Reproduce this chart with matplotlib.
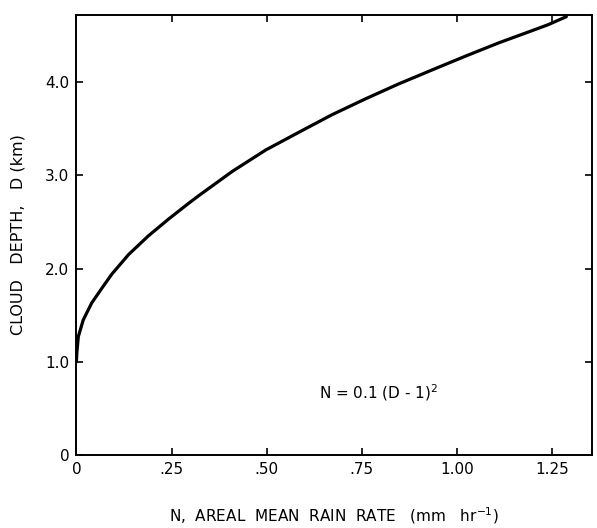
import matplotlib
matplotlib.use('Agg')
import matplotlib.pyplot as plt

# points: rain rate N (mm/hr) vs cloud depth D (km)
rain_rate = [0.0, 0.001, 0.005, 0.018, 0.04, 0.067, 0.093, 0.137, 0.189,
             0.242, 0.295, 0.321, 0.409, 0.497, 0.584, 0.672, 0.76, 0.847,
             0.9, 0.935, 1.024, 1.11, 1.197, 1.24, 1.287]
cloud_depth = [1.0, 1.09, 1.27, 1.45, 1.63, 1.79, 1.94, 2.15, 2.35,
               2.53, 2.70, 2.78, 3.04, 3.27, 3.46, 3.65, 3.82, 3.98,
               4.07, 4.13, 4.28, 4.42, 4.55, 4.615, 4.70]

xticks = [0, 0.25, 0.5, 0.75, 1.0, 1.25]
xticklabels = ['0', '.25', '.50', '.75', '1.00', '1.25']
yticks = [0, 1, 2, 3, 4]
yticklabels = ['0', '1.0', '2.0', '3.0', '4.0']

plt.rcParams['font.family'] = 'DejaVu Sans'

fig = plt.figure(figsize=(5.97, 5.28), dpi=100)
ax = fig.add_axes([0.128, 0.138, 0.864, 0.834])

ax.plot(rain_rate, cloud_depth, color='black', lw=2.3,
        solid_capstyle='round', solid_joinstyle='round')

ax.set_xlim(0, 1.355)
ax.set_ylim(0, 4.72)
ax.set_xticks(xticks)
ax.set_xticklabels(xticklabels)
ax.set_yticks(yticks)
ax.set_yticklabels(yticklabels)
ax.tick_params(direction='in', length=5, width=1.2, labelsize=11,
               top=True, right=True, pad=5)

for s in ax.spines.values():
    s.set_linewidth(1.4)

ax.set_xlabel('N,  AREAL  MEAN  RAIN  RATE   (mm   hr$^{-1}$)', fontsize=11, labelpad=20)
ax.set_ylabel('CLOUD   DEPTH,   D (km)', fontsize=11.5, labelpad=14)

ax.text(0.637, 0.67, 'N = 0.1 (D - 1)$^2$', fontsize=11, va='center')

fig.savefig('out.png', dpi=100)
